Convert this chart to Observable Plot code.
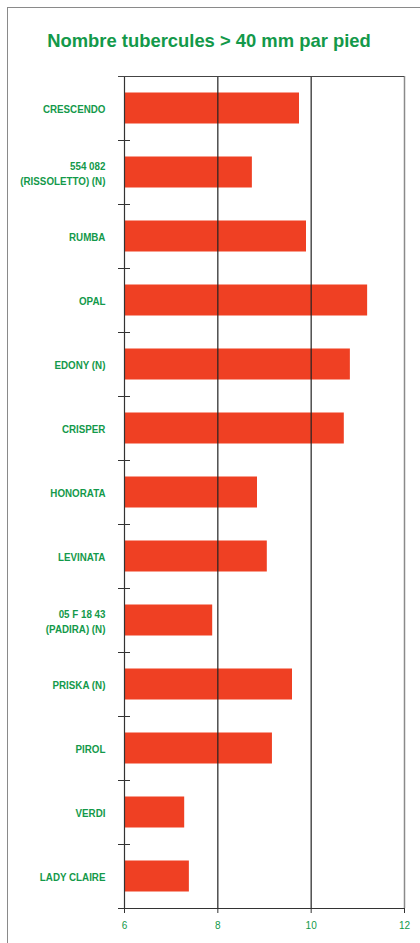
<!DOCTYPE html>
<html><head><meta charset="utf-8">
<script src="https://cdn.jsdelivr.net/npm/d3@7"></script>
<script src="https://cdn.jsdelivr.net/npm/@observablehq/plot@0.6"></script>
<style>
body{margin:0;background:#fff;}
#wrap{position:relative;width:420px;height:943px;overflow:hidden;background:#fff;}
#box{position:absolute;left:7px;top:7px;width:500px;height:1000px;border-left:1.5px solid #8a8a8a;border-top:1.5px solid #8a8a8a;}
#title{position:absolute;left:0;width:418px;top:30px;text-align:center;font:bold 18.4px "Liberation Sans",Arial,sans-serif;color:#13994a;white-space:nowrap;}
#chart{position:absolute;left:0;top:0;}
</style></head>
<body>
<div id="wrap"><div id="box"></div><div id="title">Nombre tubercules &gt; 40 mm par pied</div><div id="chart"></div></div>
<script>
const categories = ["CRESCENDO","554 082\n(RISSOLETTO) (N)","RUMBA","OPAL","EDONY (N)","CRISPER","HONORATA","LEVINATA","05 F 18 43\n(PADIRA) (N)","PRISKA (N)","PIROL","VERDI","LADY CLAIRE"];
const values = [9.75,8.74,9.9,11.21,10.84,10.71,8.85,9.06,7.89,9.6,9.17,7.29,7.39];
const xDomain = [6,12];
const xTicks = [6,8,10,12];
const gridTicks = [8,10];

const data = categories.map((name,i)=>({name, value: values[i]}));
const green = "#13994a";
const mL = 124, pad = 19;
const step = (943-76-35)/categories.length;

const chart = Plot.plot({
  width:420, height:943,
  marginLeft:mL, marginRight:16, marginTop:76, marginBottom:35,
  x:{domain:xDomain},
  y:{domain:categories, padding:0},
  style:{background:"transparent", color:"#333"},
  marks:[
    Plot.barX(data,{y:"name", x1:()=>xDomain[0], x2:"value", fill:"#ef4023", insetTop:16.5, insetBottom:16.5}),
    Plot.ruleX(gridTicks,{stroke:"#222", strokeWidth:1.2}),
    Plot.ruleX([xDomain[1]],{stroke:"#8a8a8a", strokeWidth:1.5}),
    Plot.ruleX([xDomain[0]],{stroke:"#333", strokeWidth:1.2}),
    Plot.ruleY(categories.slice(1),{dy:-step/2, x1:()=>xDomain[0], x2:()=>xDomain[0], insetLeft:-6, insetRight:-6, stroke:"#333"}),
    Plot.ruleY([categories[0]],{dy:-step/2, insetLeft:-6, stroke:"#444", strokeWidth:1.2}),
    Plot.ruleY([categories[categories.length-1]],{dy:step/2, insetLeft:-6, stroke:"#333", strokeWidth:1.2}),
    Plot.axisY({tickSize:0, tickPadding:pad, fontSize:11, fontWeight:"bold", fontFamily:"Liberation Sans, Arial, sans-serif", fill:green, lineHeight:1.36, label:null}),
    Plot.axisX({ticks:xTicks, tickFormat:d3.format("d"), tickSize:5, tickPadding:8, fontSize:10, fontFamily:"Liberation Sans, Arial, sans-serif", fill:green, stroke:"#333", label:null})
  ]
});
// condense the category labels horizontally (narrow typeface look)
const lab = chart.querySelector('g[aria-label="y-axis tick label"]');
if (lab) {
  const ax = mL - pad;
  const w = document.createElementNS("http://www.w3.org/2000/svg","g");
  w.setAttribute("transform",`translate(${ax},0) scale(0.89,1) translate(${-ax},0)`);
  lab.parentNode.insertBefore(w, lab);
  w.appendChild(lab);
}
document.getElementById("chart").appendChild(chart);
</script>
</body></html>
